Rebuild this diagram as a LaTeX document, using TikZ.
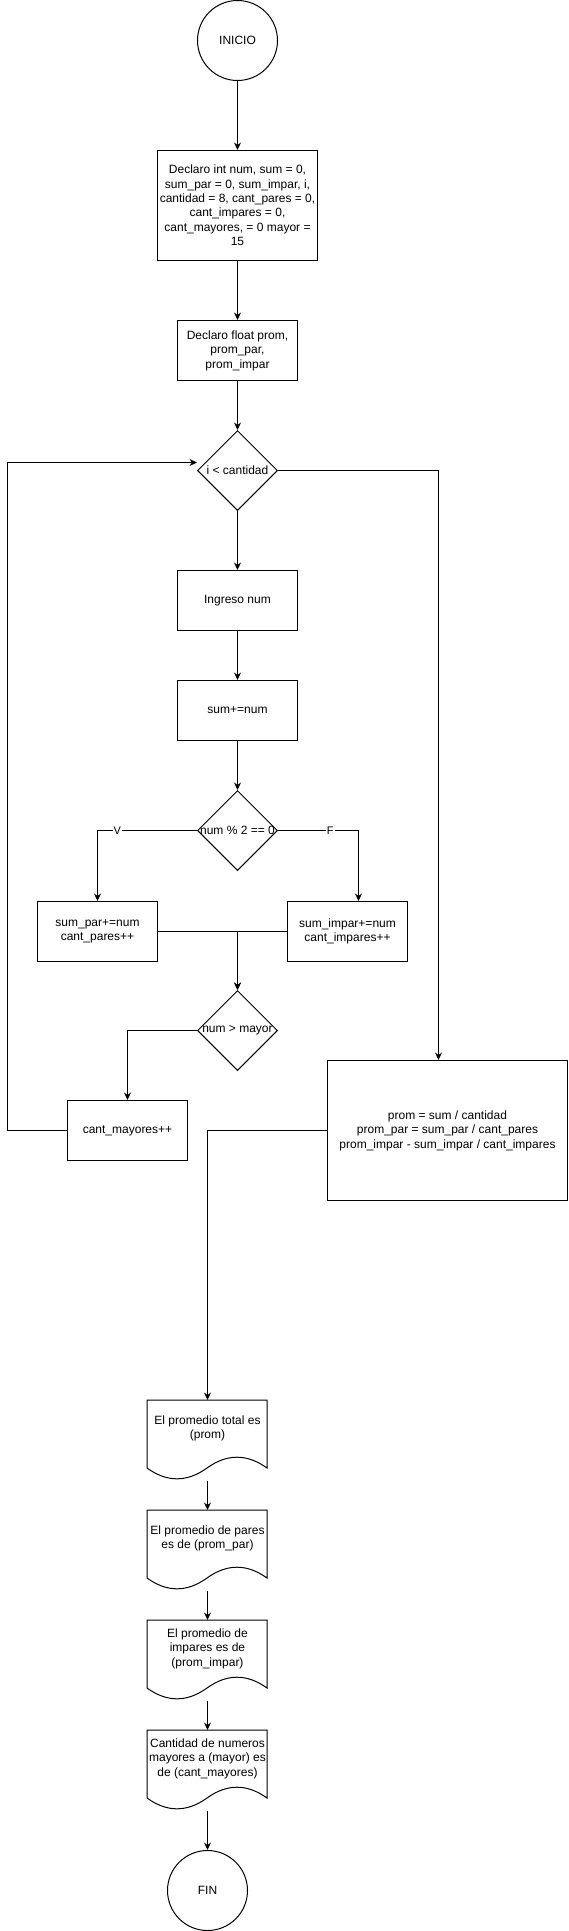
\documentclass[tikz,border=0pt]{standalone}
\usepackage{fontspec}
\setmainfont{Liberation Sans}
\usetikzlibrary{arrows.meta,shapes.geometric,calc}
\newcommand{\fs}{\fontsize{12pt}{14.4pt}\selectfont}
\newcommand{\fl}{\fontsize{11pt}{13pt}\selectfont}
\newcommand{\docoutline}[1]{\draw[line width=1pt, shift={(#1.north west)}] (0,0) -- (120,0) -- (120,68) .. controls (100,53.6) and (80,53.6) .. (60,68) .. controls (40,82.4) and (20,82.4) .. (0,68) -- cycle;}
\begin{document}
\begin{tikzpicture}[x=1pt,y=-1pt,
  box/.style={draw, line width=1pt, rectangle, inner sep=0pt, align=center, font=\fs},
  term/.style={draw, line width=1pt, circle, minimum size=80pt, inner sep=0pt, font=\fs},
  dec/.style={draw, line width=1pt, diamond, aspect=1, minimum width=80pt, minimum height=80pt, inner sep=0pt},
  doctxt/.style={anchor=center, align=center, font=\fs, yshift=12pt},
  docnode/.style={rectangle, minimum width=120pt, minimum height=80pt, inner sep=0pt, outer sep=0.5pt},
  arr/.style={line width=1pt, -{Stealth[length=7.5pt,width=7pt,inset=2.5pt]}},
  lbl/.style={font=\fl, fill=white, inner sep=1pt}]
\useasboundingbox (0,0) rectangle (568,1931);

\node[term] (inicio) at (237.5,40.5) {INICIO};
\node[box, minimum width=160pt, minimum height=110pt] (decl) at (237.5,205.5)
  {Declaro int num, sum = 0,\\ sum\_par = 0, sum\_impar, i,\\ cantidad = 8, cant\_pares = 0,\\ cant\_impares = 0,\\ cant\_mayores, = 0 mayor =\\ 15};
\node[box, minimum width=120pt, minimum height=60pt] (flt) at (237.5,350.5)
  {Declaro float prom,\\ prom\_par,\\ prom\_impar};
\node[dec, label={[anchor=center,font=\fs]center:{i < cantidad}}] (d1) at (237.5,470.5) {};
\node[box, minimum width=120pt, minimum height=60pt] (ingreso) at (237.5,600.5) {Ingreso num};
\node[box, minimum width=120pt, minimum height=60pt] (sumn) at (237.5,710.5) {sum+=num};
\node[dec, label={[anchor=center,font=\fs]center:{num \% 2 == 0}}] (d2) at (237.5,830.5) {};
\node[box, minimum width=120pt, minimum height=60pt] (spar) at (97.5,931.5) {sum\_par+=num\\ cant\_pares++};
\node[box, minimum width=120pt, minimum height=60pt] (simp) at (347.5,931.5) {sum\_impar+=num\\ cant\_impares++};
\node[dec, label={[anchor=center,font=\fs]center:{num > mayor}}] (d3) at (237.5,1030.5) {};
\node[box, minimum width=120pt, minimum height=60pt] (cmay) at (127.5,1130.5) {cant\_mayores++};
\node[box, minimum width=240pt, minimum height=140pt] (prom) at (447.5,1130.5)
  {prom = sum / cantidad\\ prom\_par = sum\_par / cant\_pares\\ prom\_impar - sum\_impar / cant\_impares};

\node[docnode, label={[doctxt]center:{El promedio total es\\ (prom)}}] (doc1) at (207.5,1440.5) {};
\node[docnode, label={[doctxt]center:{El promedio de pares\\ es de (prom\_par)}}] (doc2) at (207.5,1550.5) {};
\node[docnode, label={[doctxt]center:{El promedio de\\ impares es de\\ (prom\_impar)}}] (doc3) at (207.5,1660.5) {};
\node[docnode, label={[doctxt]center:{Cantidad de numeros\\ mayores a (mayor) es\\ de (cant\_mayores)}}] (doc4) at (207.5,1770.5) {};
\node[term] (fin) at (207.5,1890.5) {FIN};

\docoutline{doc1}
\docoutline{doc2}
\docoutline{doc3}
\docoutline{doc4}

\coordinate (loopin) at ([yshift=8pt]d1.west);
\coordinate (loopc) at (7.5,462.5);

\draw[arr] (inicio.south) -- (decl.north);
\draw[arr] (decl.south) -- (flt.north);
\draw[arr] (flt.south) -- (d1.north);
\draw[arr] (d1.south) -- (ingreso.north);
\draw[arr] (ingreso.south) -- (sumn.north);
\draw[arr] (sumn.south) -- (d2.north);
\draw[arr] (d2.west) -| (spar.north) node[lbl, pos=0.4] {V};
\draw[arr] (d2.east) -| ([xshift=11pt]simp.north) node[lbl, pos=0.324] {F};
\draw[arr] (spar.east) -| (d3.north);
\draw[arr] (simp.west) -| (d3.north);
\draw[arr] (d3.west) -| (cmay.north);
\draw[arr] (cmay.west) -| (loopc) -- (loopin);
\draw[arr] (d1.east) -| ([xshift=-9pt]prom.north);
\draw[arr] (prom.west) -| (doc1.north);
\draw[arr] (doc1.south) -- (doc2.north);
\draw[arr] (doc2.south) -- (doc3.north);
\draw[arr] (doc3.south) -- (doc4.north);
\draw[arr] (doc4.south) -- (fin.north);
\end{tikzpicture}
\end{document}
